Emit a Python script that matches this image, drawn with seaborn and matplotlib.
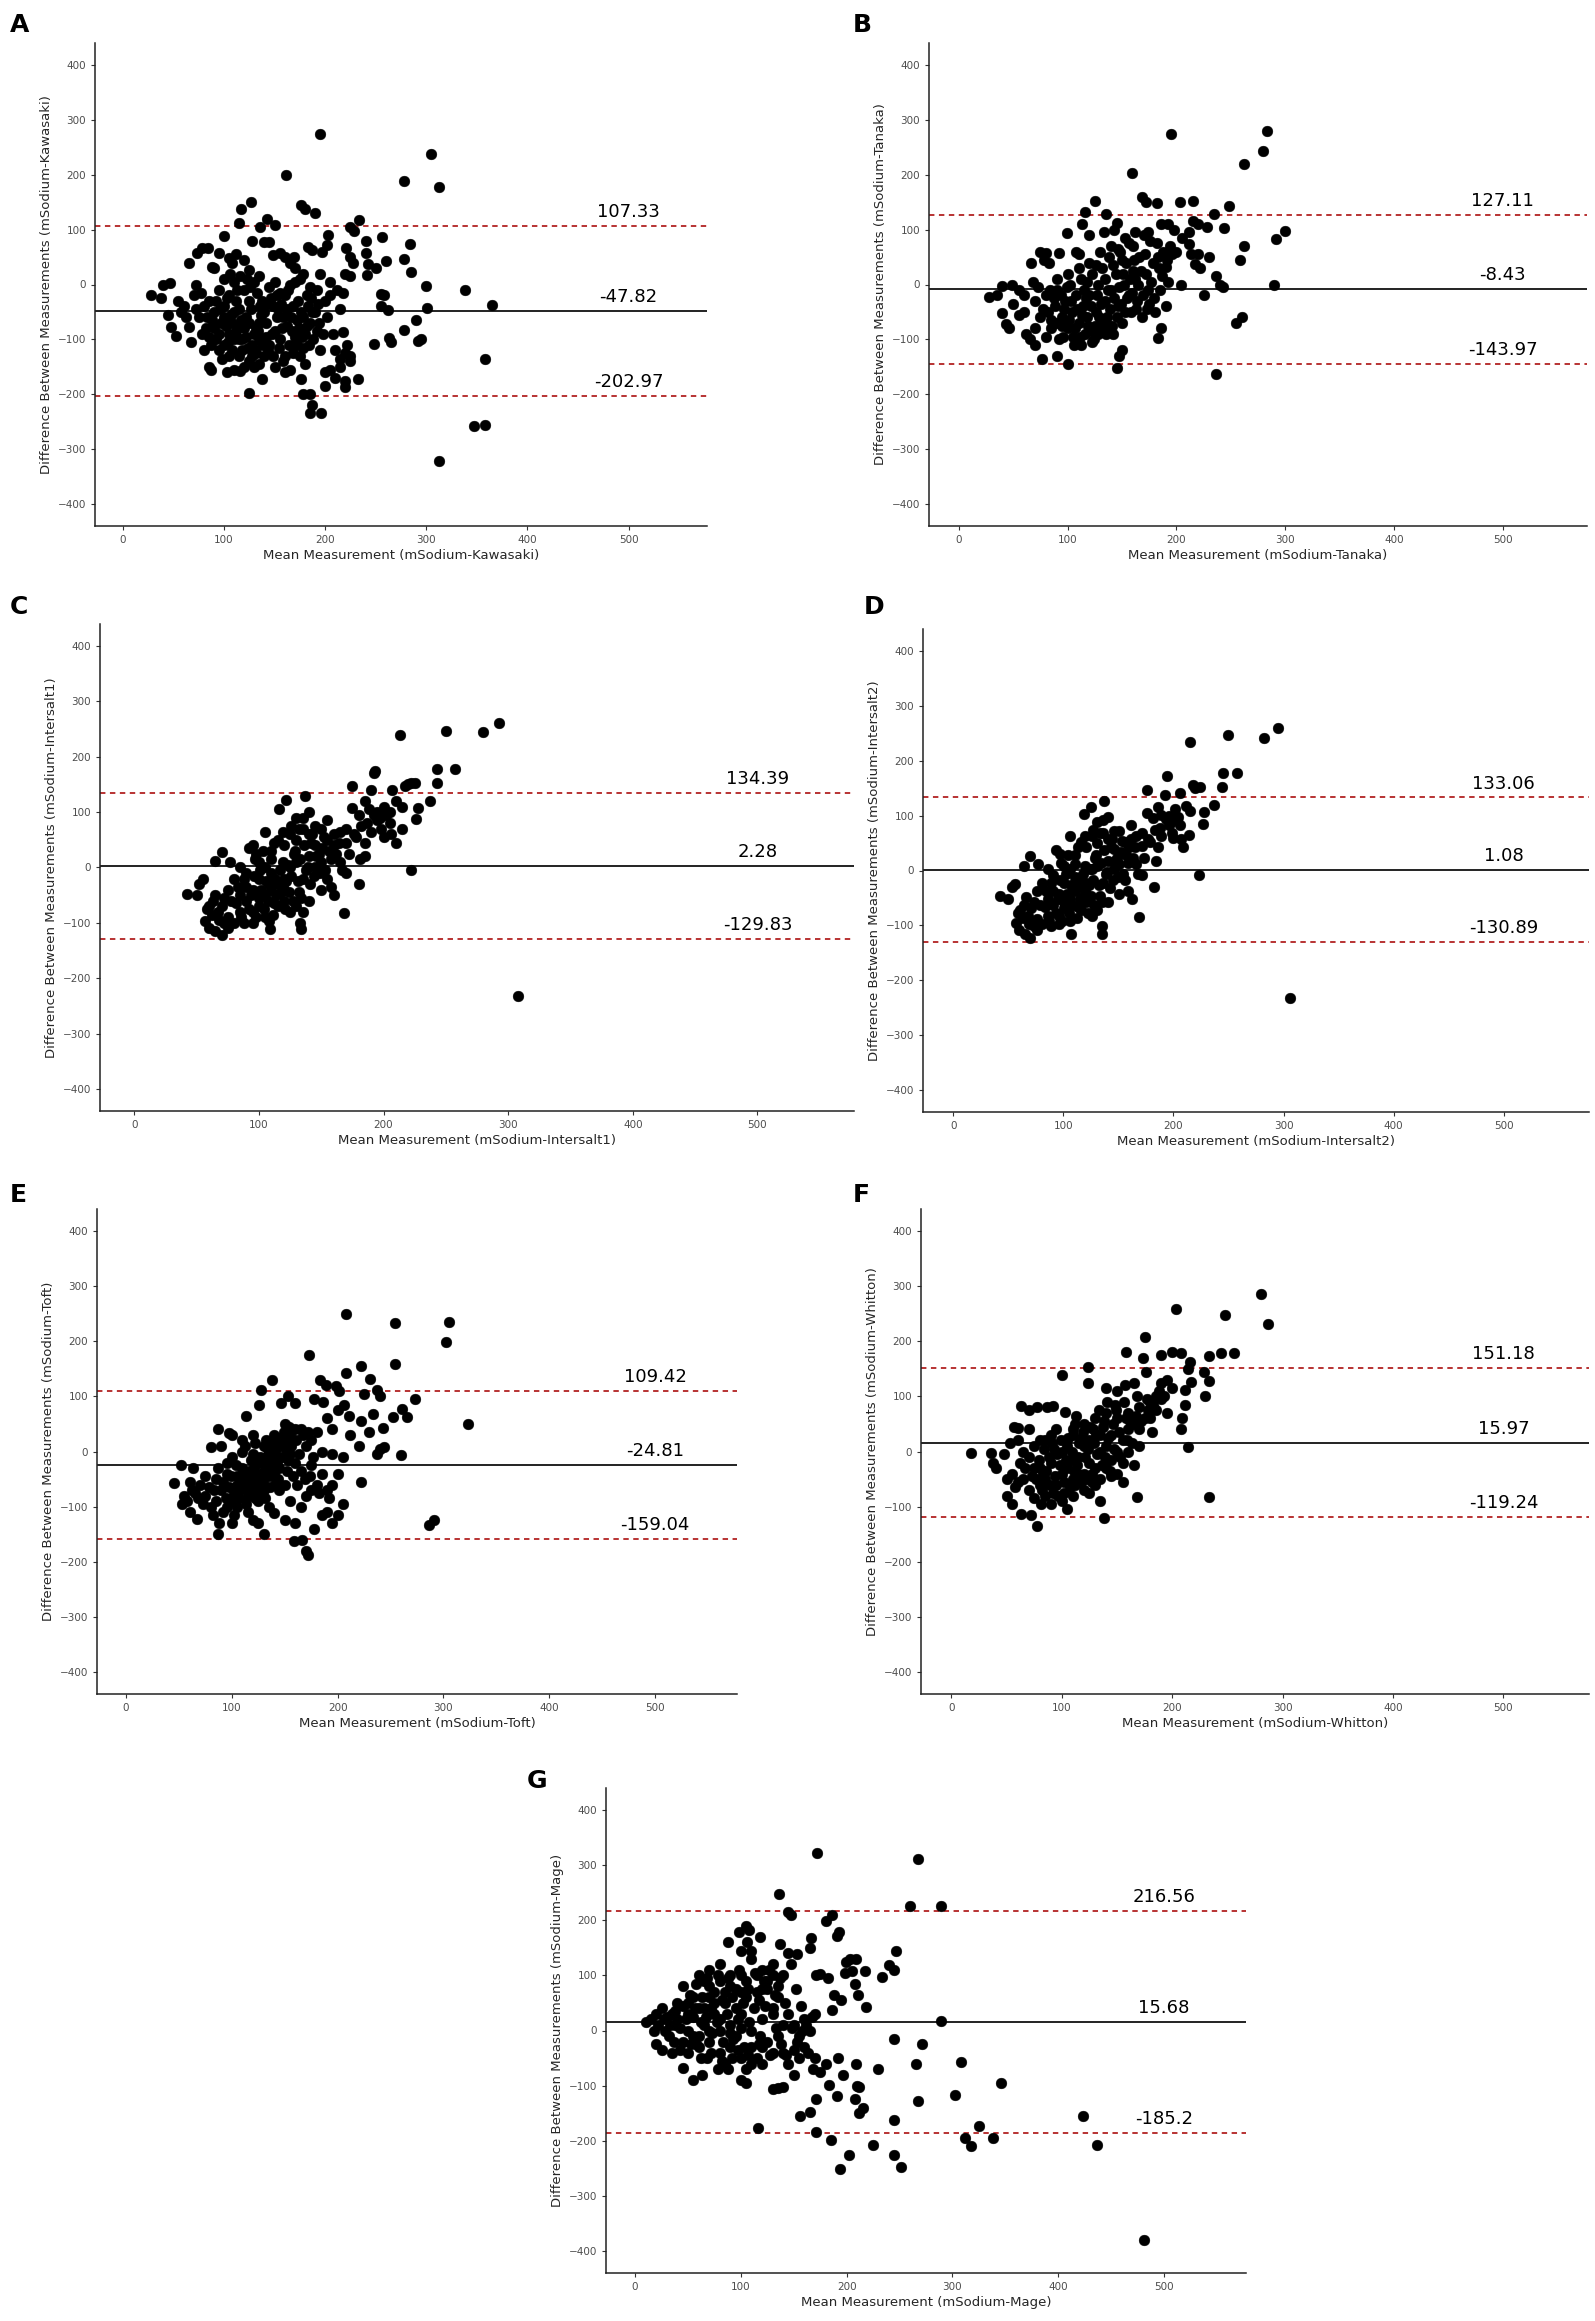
import seaborn as sns
import matplotlib.pyplot as plt
import pandas as pd
import numpy as np

kawasaki_pts = [
    (195, 275), (305, 237), (313, 177), (278, 188), (161, 199), (127, 150), (117, 137), (176, 145),
    (180, 137), (190, 130), (233, 117), (143, 120), (136, 105), (150, 108), (115, 112), (225, 105),
    (229, 97), (100, 88), (203, 90), (128, 80), (140, 77), (145, 77), (240, 80), (256, 86), (284, 73),
    (202, 72), (221, 66), (183, 68), (187, 63), (78, 67), (84, 67), (73, 57), (65, 40), (95, 58),
    (197, 60), (155, 58), (160, 50), (169, 50), (148, 53), (240, 57), (225, 50), (228, 40), (242, 37),
    (260, 42), (250, 30), (278, 47), (285, 23), (241, 17), (220, 20), (225, 15), (165, 40), (170, 30),
    (178, 20), (112, 55), (108, 40), (105, 48), (120, 45), (125, 27), (88, 32), (90, 30), (130, 5),
    (300, -3), (338, -10), (365, -38), (301, -43), (255, -18), (258, -20), (255, -40), (262, -47),
    (290, -65), (292, -103), (295, -100), (248, -108), (263, -98), (265, -105), (278, -83), (358, -136),
    (347, -257), (358, -256), (313, -322), (196, -235), (185, -234), (187, -220), (185, -200),
    (178, -200), (125, -197), (200, -185), (220, -186), (210, -170), (220, -175), (232, -172),
    (138, -172), (176, -172), (103, -160), (110, -155), (87, -155), (85, -150), (116, -158),
    (160, -160), (200, -160), (205, -155), (215, -150), (225, -140), (215, -135), (220, -125),
    (222, -110), (218, -87), (130, -150), (135, -145), (180, -145), (165, -155),
    (28, -20), (38, -25), (40, 0), (47, 2), (45, -55), (48, -78), (53, -93), (55, -30), (60, -40),
    (65, -77), (67, -105), (58, -50), (70, -20), (72, 0), (77, -15), (80, -120), (85, -95), (83, -60),
    (90, -80), (92, -100), (95, -120), (98, -135), (100, -110), (100, -60), (105, -90), (108, -70),
    (110, -50), (112, -30), (115, -100), (118, -120), (120, -80), (122, -60), (125, -140), (128, -110),
    (130, -90), (132, -125), (135, -70), (138, -30), (140, -50), (142, -95), (145, -110), (148, -40),
    (150, -85), (152, -20), (155, -100), (158, -60), (160, -130), (162, -75), (165, 0), (168, -40),
    (170, -95), (172, -110), (175, -130), (178, -60), (180, -90), (182, -20), (185, -70), (188, -100),
    (190, -50), (192, -10), (195, -120), (198, -90), (200, -30), (202, -60), (205, -20), (208, -90),
    (210, -120), (212, -10), (215, -45), (218, -15), (225, -130), (95, -10), (100, 10), (105, -20),
    (110, 5), (115, -45), (120, -10), (125, -30), (135, 15), (145, -5), (150, 5), (155, -15),
    (160, -20), (175, 10), (185, -5), (195, 20), (205, 5), (170, 5), (100, -40), (90, -50), (80, -40),
    (75, -60), (85, -30), (95, -90), (105, -130), (115, -130), (120, -150), (130, -120), (140, -130),
    (150, -150), (110, -100), (125, -70), (135, -100),
    (102, -75), (107, -55), (112, -85), (117, -65), (122, -95), (127, -45), (132, -80), (137, -55),
    (142, -70), (147, -90), (152, -60), (157, -80), (162, -45), (167, -85), (172, -65), (177, -95),
    (182, -75), (187, -50), (192, -85), (104, -105), (114, -75), (124, -115), (134, -85), (144, -120),
    (154, -115), (164, -110), (174, -80), (184, -110), (194, -70), (97, -70), (92, -30), (87, -110),
    (82, -80), (108, -120), (118, -100), (128, -130), (138, -110), (148, -130), (158, -140),
    (168, -125), (178, -115), (113, -10), (123, 10), (133, -15), (143, -35), (153, -45), (163, -10),
    (173, -30), (183, -40), (193, -35), (103, -25), (96, -45), (88, -65), (78, -90), (72, -45),
    (62, -60), (106, 20), (116, 15), (126, -5), (136, -40), (146, -25), (156, -35), (166, -60),
    (176, -50), (186, -25),
]

tanaka_pts = [
    (195, 275), (283, 280), (280, 243), (262, 220), (159, 203), (300, 97), (292, 82), (262, 70),
    (290, 0), (258, 45), (236, 15), (240, 0), (243, -5), (235, 128), (248, 143), (244, 103),
    (228, 105), (215, 153), (203, 150), (182, 148), (172, 150), (168, 160), (125, 153), (116, 133),
    (135, 128), (113, 110), (145, 112), (120, 90), (99, 93), (198, 100), (212, 96), (205, 85),
    (215, 115), (220, 110), (212, 73), (213, 55), (220, 55), (217, 38), (222, 30), (230, 50),
    (225, -20), (236, -163), (255, -70), (260, -60), (190, 32), (192, 5), (204, 0), (183, -97),
    (100, -145), (145, -153), (147, -130), (150, -120), (76, -135), (90, -130), (65, -100), (70, -110),
    (28, -22), (35, -20), (40, -2), (49, 0), (40, -52), (43, -72), (46, -80), (55, -55), (60, -50),
    (62, -90), (66, 40), (68, 5), (75, 60), (80, 58), (92, 58), (108, 60), (110, 55), (78, 45), (83, 40),
    (70, -30), (75, -60), (80, -20), (85, -80), (88, -40), (90, -10), (92, -100), (95, -60), (98, -30),
    (100, -80), (102, 0), (104, -50), (106, -110), (108, -20), (110, -70), (112, 10), (114, -40),
    (116, -90), (118, -60), (120, -20), (122, 20), (124, -100), (126, -50), (128, 0), (130, -80),
    (132, 30), (134, -30), (136, -60), (138, 50), (140, -10), (142, -90), (144, 20), (146, -40),
    (148, 60), (150, -70), (152, 0), (154, 40), (156, -20), (158, -50), (160, 70), (162, 10),
    (164, -30), (166, 50), (168, -60), (170, 90), (172, 20), (174, -10), (176, 80), (178, 40),
    (180, -50), (182, 75), (184, 30), (186, -80), (188, 60), (190, -40), (194, 70), (196, 55),
    (200, 60), (105, -95), (95, -75), (85, -65), (115, -10), (125, -75), (135, -90), (145, -60),
    (155, -25), (165, 0), (175, -35), (110, 30), (120, 40), (130, 60), (140, 70), (150, 45),
    (160, 25), (100, 20), (90, 10), (80, -95), (70, -80), (60, -20), (55, -10), (50, -35),
    (97, -45), (101, -65), (103, -30), (107, -80), (109, -45), (111, -95), (113, -55), (117, -25),
    (119, -75), (121, -40), (123, -85), (127, -20), (129, -60), (131, -35), (133, -70), (137, -10),
    (139, -45), (141, -75), (143, -25), (147, -5), (149, -35), (151, 20), (153, -50), (157, 10),
    (159, -15), (161, 45), (163, -45), (167, 25), (169, -20), (171, 55), (173, -45), (177, 5),
    (179, -25), (183, 50), (185, -10), (187, 15), (191, 45), (94, -20), (96, -95), (99, -5),
    (87, -25), (89, -70), (82, -50), (84, -10), (77, -45), (73, -5), (112, -110), (122, -105),
    (128, -90), (138, -75), (118, 5), (126, 35), (134, 10), (142, 35), (146, 65), (156, 75),
    (162, 95), (174, 95), (186, 110), (192, 110), (153, 85), (133, 95), (143, 100),
]

intersalt1_pts = [
    (308, -233), (293, 262), (280, 245), (250, 247), (213, 240), (257, 178), (243, 178), (243, 153),
    (237, 120), (228, 108), (226, 88), (222, -5), (220, 150), (217, 148), (222, 153), (225, 152),
    (215, 110), (215, 70), (210, 45), (207, 140), (193, 175), (192, 170), (190, 140), (175, 148),
    (181, 15), (180, -30), (168, -82), (134, -112), (133, -100), (135, -80), (109, -112), (108, -97),
    (70, -122), (65, -115), (60, -110), (57, -97), (42, -48), (50, -50), (52, -30), (55, -20), (65, 12),
    (70, 28), (77, 10), (95, 40), (92, 35), (98, 25), (105, 65), (116, 105), (122, 122), (137, 130),
    (135, 90), (155, 85), (175, 108), (180, 95), (185, 120), (195, 100), (200, 110), (205, 80),
    (200, 55), (190, 65), (185, 20), (170, 45), (165, 65), (160, 40), (150, 70), (145, 40), (140, 60),
    (130, 50), (120, 40), (115, 50), (110, 30), (125, 60), (150, -40), (160, -50), (140, -60),
    (130, -70), (125, -80), (120, -60), (115, -30), (110, -10), (105, 0), (100, -20), (95, -40),
    (90, -60), (85, -80), (80, -100), (75, -90), (70, -70), (65, -50), (60, -70), (75, -40), (80, -20),
    (85, -50), (90, -10), (95, -100), (100, -70), (105, -50), (110, -40), (115, -70), (120, -20),
    (125, 0), (130, 10), (135, -20), (140, 20), (145, 0), (150, 10), (155, -20), (160, 60), (165, 10),
    (170, -10), (105, -90), (88, -100), (75, -110), (100, 10), (85, 0), (95, -80), (110, 15),
    (145, 75), (135, 70), (130, 90), (140, 100), (155, 50), (170, 70), (185, 45), (195, 85),
    (205, 100), (210, 120), (178, 55), (188, 105), (198, 70), (100, -55), (108, -30), (112, -65),
    (118, -45), (122, -25), (90, -35), (82, -65), (72, -55), (68, -95), (62, -85), (128, 25),
    (132, -45), (138, -5), (142, 45), (148, 25), (152, 55), (158, 15),
    (78, -60), (83, -35), (86, -90), (88, -20), (92, -75), (94, -50), (96, -15), (98, -90),
    (102, -40), (104, -75), (106, -25), (107, -60), (111, -85), (113, -20), (114, -50), (117, -5),
    (119, -35), (121, -75), (123, 5), (124, -45), (126, -15), (127, -60), (129, 30), (131, -25),
    (133, 15), (134, -55), (136, 40), (139, 0), (141, -30), (143, 60), (144, -15), (146, 20),
    (149, -10), (151, 35), (153, -5), (156, 30), (158, -35), (162, 25), (164, 45), (167, -5),
    (172, 25), (176, 60), (182, 75), (187, 80), (192, 95), (197, 90), (202, 95), (206, 60),
    (72, -100), (67, -80), (63, -60), (58, -75), (97, 15), (103, 30), (112, 45), (119, 65),
    (126, 75), (132, 70), (119, 10), (101, -5),
]

intersalt2_pts = [
    (306, -232), (295, 260), (282, 242), (250, 247), (215, 235), (258, 178), (245, 178), (244, 153),
    (237, 120), (228, 107), (227, 85), (223, -8), (218, 155), (220, 150), (224, 153), (215, 108),
    (214, 65), (209, 42), (206, 142), (194, 173), (192, 138), (176, 146), (182, -30), (169, -85),
    (135, -115), (135, -102), (107, -115), (70, -123), (65, -116), (60, -108), (57, -96), (42, -47),
    (50, -52), (53, -30), (56, -25), (64, 8), (70, 27), (77, 12), (93, 38), (97, 30), (106, 63),
    (119, 103), (125, 115), (137, 127), (136, 92), (161, 83), (176, 105), (181, 95), (186, 115),
    (196, 100), (201, 112), (206, 82), (200, 60), (189, 62), (184, 18), (171, 45), (166, 62),
    (160, 42), (151, 72), (146, 40), (141, 58), (131, 50), (121, 42), (116, 52), (111, 28), (126, 62),
    (151, -42), (162, -52), (141, -58), (131, -72), (126, -82), (121, -58), (116, -28), (111, -12),
    (106, 2), (101, -22), (96, -42), (91, -62), (86, -82), (81, -98), (76, -88), (71, -68), (66, -48),
    (61, -72), (76, -38), (81, -22), (86, -52), (91, -8), (96, -98), (101, -68), (106, -52),
    (111, -38), (116, -72), (121, -22), (126, 2), (131, 8), (136, -22), (141, 18), (146, 2),
    (151, 12), (156, -18), (161, 58), (166, 12), (171, -8), (106, -92), (89, -102), (76, -108),
    (101, 8), (86, 2), (96, -82), (111, 12), (146, 72), (136, 68), (131, 88), (141, 98), (156, 52),
    (171, 68), (186, 42), (196, 82), (204, 98), (211, 118), (179, 52), (189, 102), (199, 68),
    (101, -57), (109, -32), (113, -67), (119, -47), (123, -27), (91, -37), (83, -67), (73, -57),
    (69, -97), (63, -87), (129, 23), (133, -47), (139, -7), (143, 43), (149, 23), (153, 53), (159, 13),
    (79, -62), (84, -37), (87, -92), (89, -22), (93, -77), (95, -52), (97, -17), (99, -92),
    (103, -42), (105, -77), (107, -27), (108, -62), (112, -87), (114, -22), (115, -52), (118, -7),
    (120, -37), (122, -77), (124, 3), (125, -47), (127, -17), (128, -62), (130, 28), (132, -27),
    (134, 13), (135, -57), (137, 38), (140, -2), (142, -32), (144, 58), (145, -17), (147, 18),
    (150, -12), (152, 33), (154, -7), (157, 28), (159, -37), (163, 23), (165, 43), (168, -7),
    (173, 23), (177, 58), (183, 73), (188, 78), (193, 93), (198, 88), (203, 93), (207, 58),
    (73, -102), (68, -82), (64, -62), (59, -77), (98, 13), (104, 28), (113, 43), (120, 63),
    (127, 73), (133, 68), (120, 8), (102, -7),
]

toft_pts = [
    (208, 250), (254, 233), (305, 235), (302, 198), (254, 158), (173, 175), (208, 143), (222, 155),
    (231, 131), (183, 130), (189, 120), (198, 118), (201, 110), (138, 130), (128, 112), (237, 112),
    (240, 100), (225, 105), (273, 95), (261, 77), (266, 62), (252, 62), (323, 50), (260, -7),
    (237, -5), (240, 5), (244, 8), (243, 42), (233, 68), (230, 35), (222, 55), (212, 30), (220, 10),
    (286, -133), (291, -125), (172, -188), (170, -180), (166, -160), (159, -163), (178, -140),
    (130, -150), (87, -150), (100, -130), (88, -130), (67, -122), (60, -110), (53, -95), (45, -57),
    (52, -25), (63, -30), (80, 8), (87, 40), (97, 33), (113, 65), (126, 85), (146, 88), (153, 100),
    (160, 88), (178, 95), (186, 90), (206, 85), (211, 65), (222, -55), (200, -115), (205, -95),
    (195, -130), (190, -110), (185, -115), (160, -130), (150, -125), (140, -112), (125, -130),
    (120, -125), (70, -60), (75, -80), (80, -100), (85, -50), (90, -70), (95, -40), (100, -90),
    (105, -60), (110, -30), (115, -80), (120, -50), (125, -20), (130, -70), (135, 0), (140, -40),
    (145, 10), (150, -60), (155, 30), (160, -20), (165, 40), (170, -80), (175, 20), (180, -60),
    (185, 0), (190, -70), (195, 40), (200, -40), (205, -10), (100, -10), (110, 20), (120, 30),
    (130, 10), (140, 30), (150, 50), (160, 40), (170, 10), (180, 35), (190, 60), (200, 75),
    (95, -100), (105, -100), (115, -110), (125, -90), (135, -100), (145, -70), (155, -90),
    (165, -100), (175, -70), (195, -60), (90, 10), (100, 30), (110, 0), (120, -5), (130, -35),
    (140, -15), (60, -55), (65, -75), (55, -80), (75, -45), (85, -90), (95, -20), (105, -45),
    (115, -55), (125, -65), (135, -45), (145, -30), (155, -5), (165, -35), (175, -25), (185, -40),
    (195, -5), (108, -70), (112, -40), (118, -15), (122, -85), (128, -45), (132, -10), (138, 15),
    (142, -55), (148, 20), (152, -35),
    (83, -70), (87, -30), (92, -55), (94, -85), (97, -65), (99, -45), (102, -75), (104, -25),
    (107, -85), (109, -50), (111, -65), (113, -95), (116, -35), (117, -60), (119, -75), (121, -30),
    (123, -60), (124, -40), (126, -75), (127, -10), (129, -55), (131, -85), (133, -25), (134, 5),
    (136, -65), (137, -30), (139, -5), (141, 15), (143, -20), (144, -50), (146, 25), (147, -10),
    (149, 35), (151, 5), (153, -15), (154, 45), (156, 10), (158, -45), (161, 20), (163, -5),
    (167, 30), (169, -50), (172, 35), (174, -45), (177, -10), (78, -65), (73, -95), (68, -85),
    (62, -70), (58, -90), (82, -115), (92, -110), (102, -115), (112, 10), (122, 15), (132, 20),
    (142, 5), (152, 20), (162, -60), (182, -75), (192, -85),
]

whitton_pts = [
    (280, 285), (287, 232), (203, 258), (248, 248), (175, 207), (158, 181), (174, 170), (190, 175),
    (200, 180), (208, 178), (244, 178), (256, 178), (233, 173), (229, 145), (233, 128), (216, 163),
    (214, 150), (212, 112), (217, 127), (230, 100), (212, 85), (209, 60), (208, 40), (214, 8),
    (233, -83), (168, -83), (135, -90), (138, -120), (78, -135), (72, -115), (63, -113), (55, -95),
    (50, -80), (18, -2), (36, -2), (38, -20), (40, -30), (48, -5), (53, 15), (57, 45), (60, 42),
    (63, 82), (70, 75), (78, 80), (87, 80), (92, 82), (100, 138), (124, 153), (103, 72), (124, 125),
    (140, 115), (150, 110), (157, 120), (165, 125), (176, 145), (185, 100), (190, 125), (195, 130),
    (200, 115), (182, 35), (170, 10), (160, 0), (155, -55), (150, -40), (140, -30), (130, -60),
    (120, -70), (110, -50), (105, -105), (100, -90), (90, -95), (85, -80), (80, -60), (75, -85),
    (70, -70), (65, -50), (60, -55), (55, -40), (50, -50), (70, -10), (75, 10), (80, -30), (85, 20),
    (90, -20), (95, 40), (100, -40), (105, 10), (110, 30), (115, -10), (120, 50), (125, 20),
    (130, 60), (135, 0), (140, 70), (145, 30), (150, 60), (155, 20), (160, 70), (165, 50), (170, 80),
    (175, 60), (180, 90), (185, 75), (190, 95), (195, 70), (105, -30), (115, -40), (125, -20),
    (135, 30), (145, -15), (110, 40), (120, 10), (130, -30), (140, 10), (150, 0), (160, 40),
    (170, 40), (180, 60), (95, -60), (85, -50), (75, -30), (65, 0), (100, 0), (90, 30), (80, 20),
    (70, 40), (60, 20), (110, -80), (120, -40), (125, -75), (135, -50), (145, -45), (155, -20),
    (165, -25), (88, -10), (98, -25), (108, -15), (118, 25), (128, 40), (138, 55), (148, 85),
    (158, 60), (168, 100), (178, 75), (93, 5), (83, -40), (113, 65),
    (77, -50), (79, -15), (82, -70), (84, 5), (86, -35), (89, -60), (91, 15), (94, -45), (96, -5),
    (97, -80), (99, 20), (102, -55), (104, -15), (106, 25), (107, -65), (109, 0), (111, -35),
    (112, 50), (114, -25), (116, 15), (117, -55), (119, 35), (121, -10), (122, -50), (124, 5),
    (126, 45), (127, -40), (129, 15), (131, 30), (132, -5), (134, 75), (136, -25), (137, 45),
    (139, -10), (141, 90), (142, 25), (144, -35), (146, 50), (147, 5), (149, 75), (152, 35),
    (153, -10), (156, 90), (159, 20), (162, 55), (164, 15), (167, 65), (172, 55), (177, 95),
    (183, 85), (188, 110), (193, 100), (67, -30), (62, -20), (58, -65), (73, -45), (81, -95),
    (92, -75), (102, -75), (112, -60), (127, -55),
]

mage_pts = [
    (172, 322), (267, 312), (136, 248), (260, 225), (289, 225), (147, 210), (145, 215), (186, 210),
    (180, 198), (105, 190), (108, 183), (98, 178), (88, 160), (118, 170), (106, 160), (100, 145),
    (110, 145), (137, 157), (145, 140), (153, 138), (166, 168), (165, 150), (193, 178), (191, 172),
    (247, 145), (240, 118), (245, 110), (233, 97), (199, 125), (203, 130), (209, 130), (205, 108),
    (217, 108), (208, 85), (211, 65), (218, 42), (198, 105), (195, 55), (188, 65), (186, 38),
    (171, 100), (175, 103), (182, 95), (289, 18), (245, -15), (271, -25), (266, -60), (308, -57),
    (346, -95), (302, -117), (267, -128), (245, -162), (230, -70), (209, -60), (210, -100),
    (212, -103), (208, -125), (215, -140), (212, -150), (192, -50), (197, -80), (191, -118),
    (183, -98), (171, -125), (165, -148), (156, -155), (171, -185), (185, -198), (116, -176),
    (225, -207), (202, -226), (194, -252), (245, -225), (251, -248), (312, -195), (318, -210),
    (325, -173), (338, -195), (423, -155), (437, -208), (481, -380), (180, -60), (175, -75),
    (168, -70), (170, -50), (160, -30), (150, -35), (140, -40), (135, -105), (130, -107),
    (140, -103), (105, -95), (100, -90), (55, -90), (63, -80), (45, -68), (35, -40), (25, -35),
    (20, -25), (10, 15), (15, 20), (20, 30), (25, 40), (30, 25), (18, 0), (28, 0), (38, 10),
    (40, 50), (45, 80), (50, 30), (55, 60), (60, 100), (65, 90), (70, 110), (75, 70), (80, 120),
    (85, 50), (90, 80), (95, 40), (100, 100), (105, 60), (110, 130), (115, 70), (120, 110),
    (125, 90), (130, 120), (135, 60), (140, 100), (145, 30), (150, 10), (155, -10), (160, 20),
    (165, 0), (170, 30), (45, -20), (50, -40), (55, -10), (60, -30), (65, 10), (70, -20), (75, 30),
    (80, -40), (85, -60), (90, -30), (95, -10), (100, -50), (105, -70), (110, -30), (115, -50),
    (120, -60), (125, -20), (130, -40), (135, -10), (140, 10), (145, -60), (150, -80), (155, -50),
    (40, 20), (50, 50), (60, 40), (70, 60), (80, 20), (90, 10), (100, 30), (110, 0), (120, 20),
    (130, 40), (50, 0), (60, -10), (70, 0), (80, 0), (90, -5), (100, 5), (35, 30), (45, 45),
    (55, 25), (65, 40), (75, 50), (85, 70), (95, 75), (105, 90), (115, 100), (125, 75), (135, 80),
    (88, -70), (78, -70), (68, -50), (58, -25), (110, -60), (120, -30), (130, 30), (100, 70),
    (90, 100), (80, 90), (70, 80), (120, 75), (130, 100),
    (33, 10), (38, 35), (42, 5), (48, 20), (52, 65), (53, -25), (57, 40), (58, 85), (62, 15),
    (63, 60), (67, 25), (68, 95), (72, 40), (73, -5), (77, 15), (78, 100), (82, 55), (83, -20),
    (87, 30), (88, 95), (92, 60), (93, -15), (97, 20), (98, 110), (102, 50), (103, -30), (107, 75),
    (108, 15), (112, 40), (113, 105), (117, 55), (118, -10), (122, 90), (123, 45), (127, 110),
    (128, -45), (132, 65), (133, 5), (137, 95), (138, -25), (142, 50), (143, -45), (147, 120),
    (148, 5), (152, 75), (153, -20), (157, 45), (158, 0), (162, 10), (163, -40), (167, 25),
    (22, 10), (27, 20), (32, -10), (37, -20), (42, -35), (62, -50), (72, -40), (82, -55),
    (92, -50), (97, -35), (107, -45), (117, -25),
]

# mean difference and limits of agreement per method
methods = ["Kawasaki", "Tanaka", "Intersalt1", "Intersalt2", "Toft", "Whitton", "Mage"]
panel_letters = ["A", "B", "C", "D", "E", "F", "G"]
upper_loa = [107.33, 127.11, 134.39, 133.06, 109.42, 151.18, 216.56]
mean_diff = [-47.82, -8.43, 2.28, 1.08, -24.81, 15.97, 15.68]
lower_loa = [-202.97, -143.97, -129.83, -130.89, -159.04, -119.24, -185.2]
x_ticks = [0, 100, 200, 300, 400, 500]
y_ticks = [-400, -300, -200, -100, 0, 100, 200, 300, 400]

points = [kawasaki_pts, tanaka_pts, intersalt1_pts, intersalt2_pts, toft_pts, whitton_pts, mage_pts]

W, H = 1595, 2321
# axes boxes in pixels: left, top, right, bottom
boxes = [
    (95, 43, 707, 526), (929, 43, 1587, 526),
    (100, 624, 854, 1111), (923, 629, 1589, 1112),
    (97, 1209, 737, 1694), (921, 1209, 1589, 1694),
    (606, 1788, 1246, 2273),
]
letter_pos = [(10, 13), (853, 13), (10, 595), (864, 595), (10, 1183), (853, 1183), (527, 1769)]

sns.set_style("ticks")
fig = plt.figure(figsize=(W / 100, H / 100), dpi=100)

for i, m in enumerate(methods):
    l, t, r, b = boxes[i]
    ax = fig.add_axes([l / W, 1 - b / H, (r - l) / W, (b - t) / H])
    df = pd.DataFrame(points[i], columns=["mean", "diff"])
    sns.scatterplot(data=df, x="mean", y="diff", ax=ax, color="black", s=60,
                    edgecolor="black", linewidth=0.3, zorder=3)
    ax.axhline(mean_diff[i], color="#222222", lw=1.4, zorder=2)
    ax.axhline(upper_loa[i], color="#B22222", lw=1.3, ls=(0, (3, 2.5)), zorder=2)
    ax.axhline(lower_loa[i], color="#B22222", lw=1.3, ls=(0, (3, 2.5)), zorder=2)
    for v in (upper_loa[i], mean_diff[i], lower_loa[i]):
        ax.text(500, v + 9, f"{v:g}", ha="center", va="bottom", fontsize=13, color="black")
    ax.set_xlim(-27.5, 577.5)
    ax.set_ylim(-440, 440)
    ax.set_xticks(x_ticks)
    ax.set_yticks(y_ticks)
    ax.tick_params(labelsize=7.5, labelcolor="#4D4D4D", length=3, width=0.8, color="#333333")
    ax.set_xlabel(f"Mean Measurement (mSodium-{m})", fontsize=9.5, labelpad=3)
    ax.set_ylabel(f"Difference Between Measurements (mSodium-{m})", fontsize=9.5, labelpad=3)
    sns.despine(ax=ax)
    for sp in ("left", "bottom"):
        ax.spines[sp].set_linewidth(1.1)
        ax.spines[sp].set_color("#222222")
    lx, ly = letter_pos[i]
    fig.text(lx / W, 1 - ly / H, panel_letters[i], fontsize=18, fontweight="bold",
             ha="left", va="top", color="black")

fig.savefig("out.png", dpi=100, facecolor="white")
